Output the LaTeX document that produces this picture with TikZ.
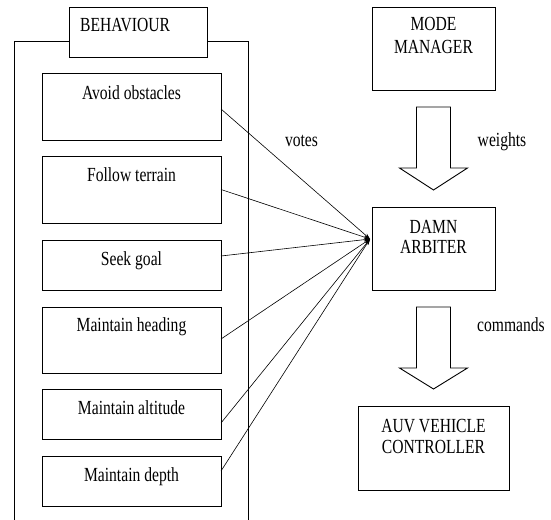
\documentclass[tikz,border=0pt]{standalone}
\usepackage{fontspec}
\setmainfont[FakeStretch=0.78]{Liberation Serif}
\usetikzlibrary{calc,arrows.meta}
\begin{document}
\begin{tikzpicture}[x=1bp,y=-1bp,
  every node/.style={font=\fontsize{20bp}{21bp}\selectfont},
  box/.style={draw,line width=0.9bp,inner sep=0pt,outer sep=0pt,fill=white},
  lbl/.style={anchor=base,inner sep=0pt},
  vote/.style={line width=0.6bp,-{Stealth[length=6bp,width=4bp]}},
  fatarrow/.style={line width=0.9bp,fill=white,line join=miter}]
\useasboundingbox (0,0) rectangle (551,520);

% behaviour container (open at the bottom) with its title tab
\draw[line width=0.9bp] (14,520) -- (14,41) -- (248,41) -- (248,520);
\node[box,minimum width=138bp,minimum height=50bp] (behav) at (138,32) {};
\node[lbl,anchor=base west] (behavtxt) at ($(behav.west)+(11,0)$) {BEHAVIOUR};

% individual behaviours
\node[box,minimum width=179bp,minimum height=67bp] (avoid) at (131.5,106.5) {};
\node[lbl] (avoidtxt) at ($(avoid.north)+(0,26.5)$) {Avoid obstacles};
\node[box,minimum width=179bp,minimum height=67bp] (follow) at (131.5,189.5) {};
\node[lbl] (followtxt) at ($(follow.north)+(0,25.5)$) {Follow terrain};
\node[box,minimum width=179bp,minimum height=50bp] (seek) at (131.5,265) {};
\node[lbl] (seektxt) at ($(seek.north)+(0,25)$) {Seek goal};
\node[box,minimum width=179bp,minimum height=66bp] (heading) at (131.5,340) {};
\node[lbl] (headingtxt) at ($(heading.north)+(0,24)$) {Maintain heading};
\node[box,minimum width=179bp,minimum height=50bp] (altitude) at (131.5,414) {};
\node[lbl] (altitudetxt) at ($(altitude.north)+(0,25)$) {Maintain altitude};
\node[box,minimum width=179bp,minimum height=50bp] (depth) at (131.5,481) {};
\node[lbl] (depthtxt) at ($(depth.north)+(0,25.5)$) {Maintain depth};

% mode manager, arbiter and vehicle controller
\node[box,minimum width=123bp,minimum height=83bp] (mode) at (433.5,48.5) {};
\node[lbl] (modetxt1) at ($(mode.north)+(0,24)$) {MODE};
\node[lbl] (modetxt2) at ($(mode.north)+(0,47)$) {MANAGER};
\node[box,minimum width=123bp,minimum height=83bp] (damn) at (433.5,248.5) {};
\node[lbl] (damntxt1) at ($(damn.north)+(0,26)$) {DAMN};
\node[lbl] (damntxt2) at ($(damn.north)+(0,46)$) {ARBITER};
\node[box,minimum width=151bp,minimum height=84bp] (auv) at (433.5,448) {};
\node[lbl] (auvtxt1) at ($(auv.north)+(0,26)$) {AUV VEHICLE};
\node[lbl] (auvtxt2) at ($(auv.north)+(0,47)$) {CONTROLLER};

% votes converge on the arbiter
\coordinate (hub) at ($(damn.west)+(-2,-9.5)$);
\draw[vote] ($(avoid.east)+(0,2.5)$) -- (hub);
\draw[vote] (follow.east) -- (hub);
\draw[vote] ($(seek.east)+(0,-9)$) -- (hub);
\draw[vote] ($(heading.east)+(0,-1)$) -- (hub);
\draw[vote] ($(altitude.east)+(0,9)$) -- (hub);
\draw[vote] ($(depth.east)+(0,-10)$) -- (hub);

% hollow block arrows
\draw[fatarrow] let \p1=($(mode.south)+(0,17)$), \p2=($(damn.north)+(0,-17)$) in
  (\x1-17bp,\y1) -- (\x1+17bp,\y1) -- (\x1+17bp,\y2+22bp) -- (\x1+34bp,\y2+22bp)
  -- (\x1,\y2) -- (\x1-34bp,\y2+22bp) -- (\x1-17bp,\y2+22bp) -- cycle;
\draw[fatarrow] let \p1=($(damn.south)+(0,17)$), \p2=($(auv.north)+(0,-17)$) in
  (\x1-17bp,\y1) -- (\x1+17bp,\y1) -- (\x1+17bp,\y2+21bp) -- (\x1+34bp,\y2+21bp)
  -- (\x1,\y2) -- (\x1-34bp,\y2+21bp) -- (\x1-17bp,\y2+21bp) -- cycle;

% flow labels
\node[lbl] (votes) at (301.5,147) {votes};
\node[lbl] (weights) at (502,147) {weights};
\node[lbl] (commands) at (511,331) {commands};
\end{tikzpicture}
\end{document}
